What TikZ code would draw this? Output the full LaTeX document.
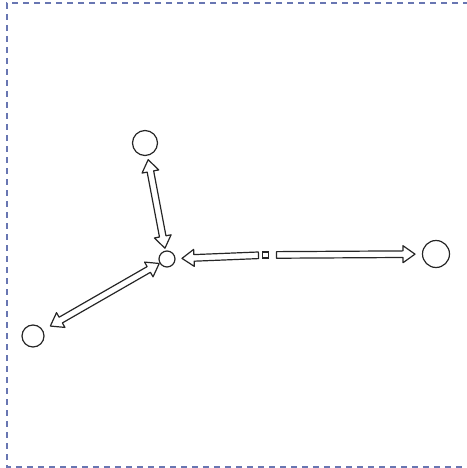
\documentclass[tikz,border=0pt]{standalone}
\usetikzlibrary{calc}
\definecolor{frameblue}{RGB}{104,118,178}
\tikzset{
  dot/.style={draw=black!85, circle, line width=1.2pt, minimum size=#1, inner sep=0pt},
  sq/.style={draw=black!85, rectangle, line width=1.1pt, minimum size=6pt, inner sep=0pt},
  frame/.style={draw=frameblue, line width=1.5pt, dash pattern=on 6pt off 5pt},
  hand/.style={draw=black!85, line width=1.2pt, line join=round, fill=white},
}
% hollow arrow, head at #2
\newcommand{\onehead}[2]{%
  \coordinate (p) at ($(#2)!12pt!(#1)$);
  \draw[hand] ($(#1)!3.3pt!90:(#2)$) -- ($(p)!3.3pt!90:(#2)$) -- ($(p)!8.5pt!90:(#2)$) -- (#2)
    -- ($(p)!8.5pt!-90:(#2)$) -- ($(p)!3.3pt!-90:(#2)$) -- ($(#1)!3.3pt!-90:(#2)$) -- cycle;
}
% hollow arrow, heads at both ends
\newcommand{\twohead}[2]{%
  \coordinate (p) at ($(#2)!12pt!(#1)$);
  \coordinate (q) at ($(#1)!12pt!(#2)$);
  \draw[hand] ($(q)!3.3pt!90:(#2)$) -- ($(p)!3.3pt!90:(#2)$) -- ($(p)!8.5pt!90:(#2)$) -- (#2)
    -- ($(p)!8.5pt!-90:(#2)$) -- ($(p)!3.3pt!-90:(#2)$) -- ($(q)!3.3pt!-90:(#2)$)
    -- ($(q)!8.5pt!-90:(#2)$) -- (#1) -- ($(q)!8.5pt!90:(#2)$) -- cycle;
}

\begin{document}
\begin{tikzpicture}[x=1pt, y=-1pt]
\useasboundingbox (0,0) rectangle (466,468);
\draw[frame] (480,3) -- (7,3) -- (7,467) -- (480,467);

% bodies
\node[dot=16pt] (hub) at (167,259) {};
\node[dot=25pt] (top) at (145,143) {};
\node[dot=22pt] (low) at (33,336) {};
\node[dot=27pt] (far) at (436,254) {};
\node[sq] (src) at (265.5,255) {};

% arrow ends
\coordinate (t1) at ($(top)!17pt!(hub)$);
\coordinate (t2) at ($(hub)!11pt!(top)$);
\coordinate (l1) at ($(src)!7pt!(hub)$);
\coordinate (l2) at ($(hub)!15pt!(src)$);
\coordinate (r1) at ($(src)!11pt!(far)$);
\coordinate (r2) at ($(far)!21pt!(src)$);
\coordinate (b1) at ($(hub)!9pt!(low)$);
\coordinate (b2) at ($(low)!20pt!(hub)$);

\twohead{t1}{t2}
\onehead{l1}{l2}
\onehead{r1}{r2}
\twohead{b1}{b2}
\end{tikzpicture}
\end{document}
